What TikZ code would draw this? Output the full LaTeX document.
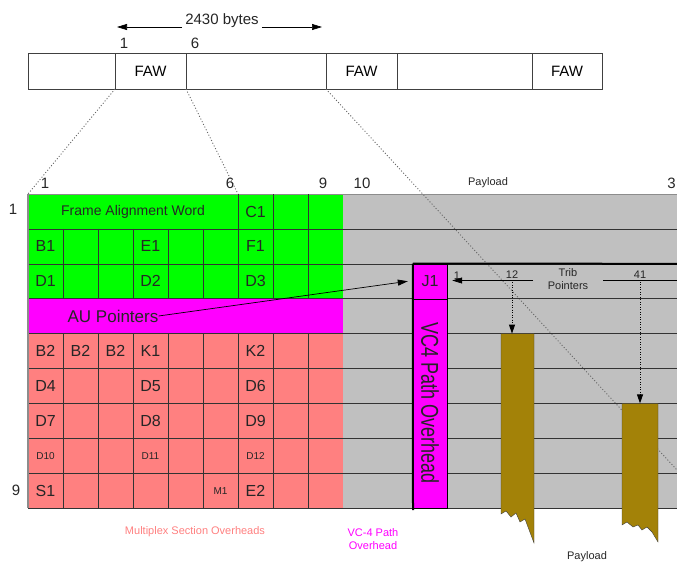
\documentclass[tikz,border=0pt]{standalone}
\usepackage{fontspec}
\setmainfont{Liberation Sans}
\usepackage{graphicx}
\usetikzlibrary{arrows.meta, positioning}

\definecolor{fawgreen}{RGB}{0,255,0}
\definecolor{aumagenta}{RGB}{255,0,255}
\definecolor{mssalmon}{RGB}{255,128,128}
\definecolor{paygray}{RGB}{192,192,192}
\definecolor{tribbrown}{RGB}{163,130,8}

\begin{document}
\begin{tikzpicture}[x=1pt, y=-1pt,
        seg/.style={draw=black!75, minimum height=36pt, inner sep=0pt, outer sep=0pt, font=\fontsize{15}{17}\selectfont},
        lbl/.style={inner sep=0pt, text=black!85, font=\fontsize{15}{17}\selectfont},
        cell/.style={inner sep=0pt, text=black!85, font=\fontsize{16}{18}\selectfont},
        tinycell/.style={inner sep=0pt, text=black!85, font=\fontsize{10}{11}\selectfont},
        note/.style={inner sep=0pt, align=center, text=black!85, font=\fontsize{11}{13}\selectfont},
        gridline/.style={draw=black!80, line width=0.6pt},
        zoomline/.style={draw=black!60, dash pattern=on 1pt off 2pt, line width=0.9pt},
        arr/.style={-{Triangle[length=10pt,width=6pt]}, line width=0.7pt},
        ptrdown/.style={dash pattern=on 1pt off 1.5pt, line width=0.9pt, -{Triangle[length=9pt,width=6pt]}}
      ]
      \useasboundingbox (0,0) rectangle (677,563);

      % frame strip
      \node[seg, minimum width=87pt, anchor=north west] (s1) at (28,53) {};
      \node[seg, minimum width=71pt, right=0pt of s1] (s2) {FAW};
      \node[seg, minimum width=140pt, right=0pt of s2] (s3) {};
      \node[seg, minimum width=71pt, right=0pt of s3] (s4) {FAW};
      \node[seg, minimum width=135pt, right=0pt of s4] (s5) {};
      \node[seg, minimum width=70pt, right=0pt of s5] (s6) {FAW};
      \node[lbl, above=4pt of s2.north west, xshift=9pt] (n1) {1};
      \node[lbl, above=4pt of s2.north east, xshift=9pt] (n6) {6};
      \node[lbl, fill=white, inner xsep=3pt] (bytes) at (222,21) {2430 bytes};
      \coordinate (bl) at (117,27);
      \coordinate (br) at (322,27);
      \draw[arr] (bytes.west |- bl) -- (bl);
      \draw[arr] (bytes.east |- br) -- (br);

      % areas
      \fill[paygray]   (343,194)   rectangle (680,508.1);
      \fill[fawgreen]  (28,194)    rectangle (343,298.7);
      \fill[aumagenta] (28,298.7)  rectangle (343,333.6);
      \fill[mssalmon]  (28,333.6)  rectangle (343,508.1);

      \coordinate (g1) at (28,194);
      \coordinate (g6) at (238,194);
      \coordinate (gfar) at (677,470);
      \draw[zoomline] (s2.south west) -- (g1);
      \draw[zoomline] (s2.south east) -- (g6);
      \draw[zoomline] (s4.south west) -- (gfar);

      % rows and columns
      \foreach \r in {1,...,9}
        \draw[gridline] (28,{194+34.9*\r}) -- (677,{194+34.9*\r});
      \draw[black!45, line width=0.8pt] (28,194) -- (677,194);
      \foreach \c in {6,7,8}
        \draw[gridline] ({28+35*\c},194) -- ({28+35*\c},228.9);
      \foreach \c in {1,...,8} {
        \draw[gridline] ({28+35*\c},228.9) -- ({28+35*\c},298.7);
        \draw[gridline] ({28+35*\c},333.6) -- ({28+35*\c},508.1);
      }
      \draw[black!45, line width=1.5pt] (28,193.5) -- (28,508.1);

      % VC-4 path overhead column
      \node[cell, draw, fill=aumagenta, minimum width=34pt, minimum height=34.9pt] (j1) at (430,281.25) {J1};
      \node[draw, fill=aumagenta, rotate=-90, minimum width=209.4pt, minimum height=34pt, inner sep=0pt,
            text=black!85, font=\fontsize{18}{20}\selectfont] (vc4) at (430,403.4) {\scalebox{1}[1.35]{VC4 Path Overhead}};
      \draw[line width=2pt] (j1.north west) -- (677,263.8);
      \draw[line width=2pt] (j1.north west) -- (413,510);

      % tributary columns
      \draw[black!75, fill=tribbrown] (501,333.6) -- (534,333.6) -- (534,543) -- (528,527) -- (525,519)
        -- (520,522) -- (516,513) -- (511,517) -- (506,511) -- (501,514) -- cycle;
      \draw[black!75, fill=tribbrown] (622,403.4) -- (658,403.4) -- (658,542) -- (652,532) -- (647,527)
        -- (642,530) -- (638,525) -- (633,527) -- (627,522) -- (622,525) -- cycle;
      \coordinate (bc1) at (517,333.6);
      \coordinate (bc2) at (640,403.4);

      % cell texts
      \node[cell, font=\fontsize{14}{16}\selectfont] (faw) at (133,211.5) {Frame Alignment Word};
      \node[cell] (c1) at (255.5,211.5) {C1};
      \node[cell] (b1) at (45.5,246.4) {B1};
      \node[cell] (e1) at (150.5,246.4) {E1};
      \node[cell] (f1) at (255.5,246.4) {F1};
      \node[cell] (d1) at (45.5,281.2) {D1};
      \node[cell] (d2) at (150.5,281.2) {D2};
      \node[cell] (d3) at (255.5,281.2) {D3};
      \node[cell, font=\fontsize{17}{19}\selectfont] (au) at (113,316) {AU Pointers};
      \node[cell] (b2a) at (45.5,351) {B2};
      \node[cell] (b2b) at (80.5,351) {B2};
      \node[cell] (b2c) at (115.5,351) {B2};
      \node[cell] (k1) at (150.5,351) {K1};
      \node[cell] (k2) at (255.5,351) {K2};
      \node[cell] (d4) at (45.5,386) {D4};
      \node[cell] (d5) at (150.5,386) {D5};
      \node[cell] (d6) at (255.5,386) {D6};
      \node[cell] (d7) at (45.5,420.9) {D7};
      \node[cell] (d8) at (150.5,420.9) {D8};
      \node[cell] (d9) at (255.5,420.9) {D9};
      \node[tinycell] (d10) at (45.5,455.8) {D10};
      \node[tinycell] (d11) at (150.5,455.8) {D11};
      \node[tinycell] (d12) at (255.5,455.8) {D12};
      \node[cell] (s1c) at (45.5,490.6) {S1};
      \node[tinycell] (m1) at (220.5,490.6) {M1};
      \node[cell] (e2) at (255.5,490.6) {E2};

      % column and row numbers
      \node[lbl] (col1) at (45,183) {1};
      \node[lbl] (col6) at (230,183) {6};
      \node[lbl] (col9) at (323,183) {9};
      \node[lbl] (col10) at (362,183) {10};
      \node[lbl, anchor=east] (col36) at (676,183) {3};
      \node[note] (payl) at (488,183) {Payload};
      \node[lbl] (row1) at (13,209) {1};
      \node[lbl] (row9) at (16,490) {9};

      % pointers
      \draw[arr] (au.east) -- ([xshift=-5pt]j1.west);
      \node[note] (t1) at (457,276) {1};
      \node[note] (t12) at (512,275) {12};
      \node[note] (trib) at (568,279) {Trib\\Pointers};
      \node[note] (t41) at (640,275) {41};
      \coordinate (tl) at (533,280.5);
      \coordinate (tr0) at (603,280.5);
      \coordinate (tr1) at (677,280.5);
      \draw[arr] (tl) -- ([xshift=5pt]j1.east |- tl);
      \draw[line width=0.7pt] (tr0) -- (tr1);
      \draw[ptrdown] ([yshift=-3pt]t12.south) -- (t12.south |- bc1);
      \draw[ptrdown] ([yshift=-3pt]t41.south) -- (t41.south |- bc2);

      % captions
      \node[note, text=mssalmon] (msoh) at (195,532) {Multiplex Section Overheads};
      \node[note, text=aumagenta] (vcoh) at (373,539) {VC-4 Path\\Overhead};
      \node[note] (payb) at (587,557) {Payload};
    \end{tikzpicture}
\end{document}
